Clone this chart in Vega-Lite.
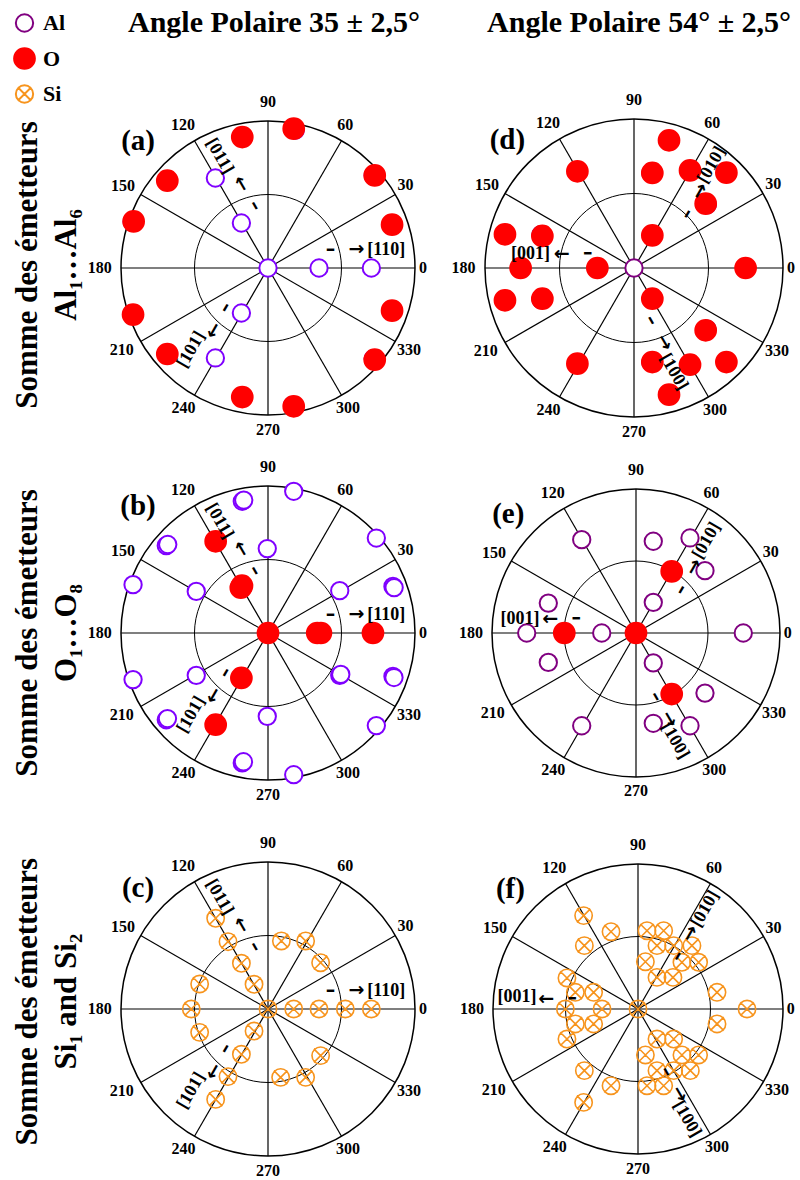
{
"$schema": "https://vega.github.io/schema/vega-lite/v6.json",
"padding": 0,
"background": "white",
"datasets": {
"spokes": [{"x":1,"y":0,"x2":-1,"y2":0},{"x":0.866,"y":0.5,"x2":-0.866,"y2":-0.5},{"x":0.5,"y":0.866,"x2":-0.5,"y2":-0.866},{"x":0,"y":1,"x2":0,"y2":-1},{"x":-0.5,"y":0.866,"x2":0.5,"y2":-0.866},{"x":-0.866,"y":0.5,"x2":0.866,"y2":-0.5}],
"origin": [{"x":0,"y":0}],
"alab": [{"t":"0","x":1.054,"y":0},{"t":"30","x":0.935,"y":0.562},{"t":"60","x":0.525,"y":0.971},{"t":"90","x":0,"y":1.129},{"t":"120","x":-0.578,"y":0.971},{"t":"150","x":-0.986,"y":0.556},{"t":"180","x":-1.145,"y":0},{"t":"210","x":-0.995,"y":-0.556},{"t":"240","x":-0.574,"y":-0.952},{"t":"270","x":0,"y":-1.1},{"t":"300","x":0.544,"y":-0.952},{"t":"330","x":0.959,"y":-0.556}],
"annL0": [{"t":"[110]","x":0.805,"y":0.125}],
"arrL0": [{"t":"–\u00a0\u00a0→","x":0.524,"y":0.127}],
"annL60": [{"t":"[011]","x":-0.329,"y":0.76}],
"annL300": [{"t":"[101]","x":-0.522,"y":-0.556}],
"arrL240": [{"t":"–\u00a0\u00a0→","x":-0.143,"y":0.506}],
"arrL120": [{"t":"–\u00a0\u00a0→","x":-0.333,"y":-0.358}],
"pa": [{"x":0,"y":0,"element":"Al"},{"x":0.347,"y":0,"element":"Al"},{"x":0.703,"y":0,"element":"Al"},{"x":-0.181,"y":0.306,"element":"Al"},{"x":-0.358,"y":0.612,"element":"Al"},{"x":-0.181,"y":-0.306,"element":"Al"},{"x":-0.358,"y":-0.612,"element":"Al"},{"x":0.185,"y":0.938,"element":"Al"},{"x":0.716,"y":0.63,"element":"Al"},{"x":-0.924,"y":0.314,"element":"Al"},{"x":-0.924,"y":-0.31,"element":"Al"},{"x":0.716,"y":-0.618,"element":"Al"},{"x":0.167,"y":-0.934,"element":"Al"},
{"x":0.175,"y":0.948,"element":"O"},{"x":-0.175,"y":0.891,"element":"O"},{"x":0.726,"y":0.63,"element":"O"},{"x":-0.685,"y":0.594,"element":"O"},{"x":0.844,"y":0.295,"element":"O"},{"x":-0.914,"y":0.317,"element":"O"},{"x":0.844,"y":-0.29,"element":"O"},{"x":-0.918,"y":-0.317,"element":"O"},{"x":-0.685,"y":-0.585,"element":"O"},{"x":0.726,"y":-0.624,"element":"O"},{"x":-0.175,"y":-0.878,"element":"O"},{"x":0.175,"y":-0.941,"element":"O"}],
"pb": [{"x":0.175,"y":0.964,"element":"Al"},{"x":-0.175,"y":0.896,"element":"Al"},{"x":-0.165,"y":0.904,"element":"Al"},{"x":0.737,"y":0.646,"element":"Al"},{"x":-0.692,"y":0.594,"element":"Al"},{"x":-0.682,"y":0.602,"element":"Al"},{"x":-0.005,"y":0.574,"element":"Al"},{"x":-0.918,"y":0.329,"element":"Al"},{"x":-0.488,"y":0.283,"element":"Al"},{"x":0.488,"y":0.288,"element":"Al"},{"x":0.85,"y":0.317,"element":"Al"},{"x":0.858,"y":0.309,"element":"Al"},{"x":-0.918,"y":-0.317,"element":"Al"},{"x":-0.488,"y":-0.288,"element":"Al"},{"x":0.488,"y":-0.288,"element":"Al"},{"x":0.495,"y":-0.282,"element":"Al"},{"x":0.85,"y":-0.295,"element":"Al"},{"x":0.857,"y":-0.303,"element":"Al"},{"x":-0.692,"y":-0.59,"element":"Al"},{"x":-0.684,"y":-0.582,"element":"Al"},{"x":-0.005,"y":-0.567,"element":"Al"},{"x":0.737,"y":-0.63,"element":"Al"},{"x":-0.175,"y":-0.884,"element":"Al"},{"x":-0.167,"y":-0.876,"element":"Al"},{"x":0.175,"y":-0.964,"element":"Al"},
{"x":0,"y":0,"element":"O"},{"x":0.335,"y":0,"element":"O"},{"x":0.36,"y":0,"element":"O"},{"x":0.714,"y":0,"element":"O"},{"x":-0.185,"y":0.308,"element":"O"},{"x":-0.177,"y":0.322,"element":"O"},{"x":-0.356,"y":0.624,"element":"O"},{"x":-0.181,"y":-0.306,"element":"O"},{"x":-0.356,"y":-0.624,"element":"O"}],
"pc": [{"x":0,"y":0,"element":"Si"},{"x":0.175,"y":0,"element":"Si"},{"x":0.347,"y":0,"element":"Si"},{"x":0.526,"y":0,"element":"Si"},{"x":0.703,"y":0,"element":"Si"},{"x":-0.522,"y":0,"element":"Si"},{"x":-0.465,"y":0.17,"element":"Si"},{"x":-0.465,"y":-0.159,"element":"Si"},{"x":-0.095,"y":0.168,"element":"Si"},{"x":-0.181,"y":0.311,"element":"Si"},{"x":-0.272,"y":0.458,"element":"Si"},{"x":-0.356,"y":0.617,"element":"Si"},{"x":-0.095,"y":-0.15,"element":"Si"},{"x":-0.181,"y":-0.308,"element":"Si"},{"x":-0.272,"y":-0.46,"element":"Si"},{"x":-0.356,"y":-0.615,"element":"Si"},{"x":0.091,"y":0.463,"element":"Si"},{"x":0.256,"y":0.463,"element":"Si"},{"x":0.358,"y":0.315,"element":"Si"},{"x":0.358,"y":-0.317,"element":"Si"},{"x":0.256,"y":-0.465,"element":"Si"},{"x":0.086,"y":-0.465,"element":"Si"}],
"pd": [{"x":0,"y":0,"element":"Al"},{"x":0.113,"y":0.638,"element":"Al"},{"x":0.492,"y":0.425,"element":"Al"},{"x":-0.624,"y":0.224,"element":"Al"},{"x":-0.624,"y":-0.212,"element":"Al"},{"x":0.49,"y":-0.41,"element":"Al"},{"x":0.113,"y":-0.631,"element":"Al"},
{"x":0.235,"y":0.857,"element":"O"},{"x":-0.38,"y":0.649,"element":"O"},{"x":0.123,"y":0.638,"element":"O"},{"x":0.376,"y":0.655,"element":"O"},{"x":0.62,"y":0.64,"element":"O"},{"x":0.481,"y":0.432,"element":"O"},{"x":0.123,"y":0.219,"element":"O"},{"x":-0.866,"y":0.226,"element":"O"},{"x":-0.615,"y":0.215,"element":"O"},{"x":-0.761,"y":0,"element":"O"},{"x":-0.246,"y":0,"element":"O"},{"x":0.749,"y":0,"element":"O"},{"x":-0.866,"y":-0.217,"element":"O"},{"x":-0.615,"y":-0.206,"element":"O"},{"x":0.123,"y":-0.206,"element":"O"},{"x":0.481,"y":-0.418,"element":"O"},{"x":-0.38,"y":-0.642,"element":"O"},{"x":0.123,"y":-0.631,"element":"O"},{"x":0.376,"y":-0.649,"element":"O"},{"x":0.62,"y":-0.631,"element":"O"},{"x":0.235,"y":-0.85,"element":"O"}],
"pe": [{"x":0.375,"y":0.66,"element":"Al"},{"x":0.12,"y":0.637,"element":"Al"},{"x":-0.377,"y":0.648,"element":"Al"},{"x":0.479,"y":0.433,"element":"Al"},{"x":0.12,"y":0.213,"element":"Al"},{"x":-0.609,"y":0.208,"element":"Al"},{"x":-0.759,"y":0,"element":"Al"},{"x":-0.238,"y":0,"element":"Al"},{"x":0.745,"y":0,"element":"Al"},{"x":-0.609,"y":-0.204,"element":"Al"},{"x":0.12,"y":-0.208,"element":"Al"},{"x":0.479,"y":-0.417,"element":"Al"},{"x":-0.377,"y":-0.644,"element":"Al"},{"x":0.12,"y":-0.627,"element":"Al"},{"x":0.375,"y":-0.644,"element":"Al"},
{"x":0,"y":0,"element":"O"},{"x":0.248,"y":0.428,"element":"O"},{"x":-0.498,"y":0,"element":"O"},{"x":0.248,"y":-0.424,"element":"O"}],
"pf": [{"x":-0.375,"y":0.644,"element":"Si"},{"x":-0.186,"y":0.533,"element":"Si"},{"x":-0.37,"y":0.437,"element":"Si"},{"x":-0.49,"y":0.214,"element":"Si"},{"x":-0.432,"y":0.115,"element":"Si"},{"x":-0.306,"y":0.115,"element":"Si"},{"x":-0.501,"y":0,"element":"Si"},{"x":-0.248,"y":0,"element":"Si"},{"x":-0.432,"y":-0.103,"element":"Si"},{"x":-0.306,"y":-0.103,"element":"Si"},{"x":-0.49,"y":-0.207,"element":"Si"},{"x":-0.37,"y":-0.425,"element":"Si"},{"x":-0.186,"y":-0.529,"element":"Si"},{"x":-0.375,"y":-0.644,"element":"Si"},{"x":0,"y":0,"element":"Si"},{"x":0.545,"y":0.115,"element":"Si"},{"x":0.752,"y":0,"element":"Si"},{"x":0.545,"y":-0.103,"element":"Si"},{"x":0.062,"y":0.54,"element":"Si"},{"x":0.177,"y":0.54,"element":"Si"},{"x":0.131,"y":0.437,"element":"Si"},{"x":0.246,"y":0.437,"element":"Si"},{"x":0.372,"y":0.437,"element":"Si"},{"x":0.051,"y":0.326,"element":"Si"},{"x":0.303,"y":0.322,"element":"Si"},{"x":0.418,"y":0.322,"element":"Si"},{"x":0.131,"y":0.218,"element":"Si"},{"x":0.241,"y":0.218,"element":"Si"},{"x":0.131,"y":-0.207,"element":"Si"},{"x":0.246,"y":-0.207,"element":"Si"},{"x":0.051,"y":-0.317,"element":"Si"},{"x":0.303,"y":-0.317,"element":"Si"},{"x":0.418,"y":-0.317,"element":"Si"},{"x":0.131,"y":-0.425,"element":"Si"},{"x":0.246,"y":-0.425,"element":"Si"},{"x":0.361,"y":-0.425,"element":"Si"},{"x":0.062,"y":-0.529,"element":"Si"},{"x":0.177,"y":-0.529,"element":"Si"}]
},
"columns": 2,
"spacing": {"row": 71, "column": 70},
"bounds": "flush",
"concat": [
 {"width":415,"height":415,
  "encoding":{"x":{"field":"x","type":"quantitative","scale":{"domain":[-1.8231,1],"nice":false,"zero":false},"axis":null},
              "y":{"field":"y","type":"quantitative","scale":{"domain":[-1,1.8231],"nice":false,"zero":false},"axis":null}},
  "layer":[
   {"data":{"name":"spokes"},"mark":{"type":"rule","stroke":"black","strokeWidth":1.2},"encoding":{"x2":{"field":"x2"},"y2":{"field":"y2"}}},
   {"data":{"name":"origin"},"mark":{"type":"point","shape":"circle","filled":false,"stroke":"black","strokeWidth":1.5,"size":86436,"opacity":1},"encoding":{}},
   {"data":{"name":"origin"},"mark":{"type":"point","shape":"circle","filled":false,"stroke":"black","strokeWidth":1,"size":21609,"opacity":1},"encoding":{}},
   {"data":{"name":"pa"},"mark":{"type":"point","strokeWidth":2,"opacity":1},"encoding":{
     "shape":{"field":"element","type":"nominal","title":null,"scale":{"domain":["Al","O","Si"],"range":["circle","circle","M-1,0A1,1,0,1,1,1,0A1,1,0,1,1,-1,0ZM-0.78,-0.78L0.78,0.78M-0.78,0.78L0.78,-0.78"]}},
     "stroke":{"condition":{"test":"datum.element === 'Al'","value":"#7f00ff"},"field":"element","type":"nominal","title":null,"scale":{"domain":["Al","O","Si"],"range":["#800080","#ff0000","#f7941d"]}},
     "fill":{"field":"element","type":"nominal","title":null,"scale":{"domain":["Al","O","Si"],"range":["#ffffff","#ff0000","transparent"]}},
     "size":{"field":"element","type":"nominal","title":null,"scale":{"type":"ordinal","domain":["Al","O","Si"],"range":[300,430,300]}}}},
   {"data":{"name":"alab"},"mark":{"type":"text","fontSize":16},"encoding":{"text":{"field":"t","type":"nominal"}}},
   {"data":{"values":[{"x":-0.884,"y":0.862,"t":"(a)"}]},"mark":{"type":"text","fontSize":29},"encoding":{"text":{"field":"t","type":"nominal"}}},
   {"data":{"name":"annL0"},"mark":{"type":"text","fontSize":18},"encoding":{"text":{"field":"t","type":"nominal"}}},
   {"data":{"name":"annL60"},"mark":{"type":"text","fontSize":18,"angle":60},"encoding":{"text":{"field":"t","type":"nominal"}}},
   {"data":{"name":"annL300"},"mark":{"type":"text","fontSize":18,"angle":300},"encoding":{"text":{"field":"t","type":"nominal"}}},
   {"data":{"name":"arrL0"},"mark":{"type":"text","font":"DejaVu Sans","fontSize":19},"encoding":{"text":{"field":"t","type":"nominal"}}},
   {"data":{"name":"arrL240"},"mark":{"type":"text","font":"DejaVu Sans","fontSize":19,"angle":240},"encoding":{"text":{"field":"t","type":"nominal"}}},
   {"data":{"name":"arrL120"},"mark":{"type":"text","font":"DejaVu Sans","fontSize":19,"angle":120},"encoding":{"text":{"field":"t","type":"nominal"}}},
   {"data":{"values":[{"x":-1.633,"y":0.02}]},"mark":{"type":"text","text":["Somme des émetteurs","Al₁…Al₆"],"angle":270,"fontSize":31,"lineHeight":39},"encoding":{}},
   {"data":{"values":[{"x":0.041,"y":1.6054,"t":"Angle Polaire 35 ± 2,5°"}]},"mark":{"type":"text","fontSize":30,"baseline":"alphabetic"},"encoding":{"text":{"field":"t","type":"nominal"}}}
  ]},
 {"width":298,"height":415,
  "encoding":{"x":{"field":"x","type":"quantitative","scale":{"domain":[-1,1],"nice":false,"zero":false},"axis":null},
              "y":{"field":"y","type":"quantitative","scale":{"domain":[-0.98658,1.79866],"nice":false,"zero":false},"axis":null}},
  "layer":[
   {"data":{"name":"spokes"},"mark":{"type":"rule","stroke":"black","strokeWidth":1.2},"encoding":{"x2":{"field":"x2"},"y2":{"field":"y2"}}},
   {"data":{"name":"origin"},"mark":{"type":"point","shape":"circle","filled":false,"stroke":"black","strokeWidth":1.5,"size":88804,"opacity":1},"encoding":{}},
   {"data":{"name":"origin"},"mark":{"type":"point","shape":"circle","filled":false,"stroke":"black","strokeWidth":1,"size":22201,"opacity":1},"encoding":{}},
   {"data":{"name":"pd"},"mark":{"type":"point","strokeWidth":2,"opacity":1},"encoding":{
     "shape":{"field":"element","type":"nominal","title":null,"scale":{"domain":["Al","O","Si"],"range":["circle","circle","M-1,0A1,1,0,1,1,1,0A1,1,0,1,1,-1,0ZM-0.78,-0.78L0.78,0.78M-0.78,0.78L0.78,-0.78"]}},
     "stroke":{"field":"element","type":"nominal","title":null,"scale":{"domain":["Al","O","Si"],"range":["#800080","#ff0000","#f7941d"]}},
     "fill":{"field":"element","type":"nominal","title":null,"scale":{"domain":["Al","O","Si"],"range":["#ffffff","#ff0000","transparent"]}},
     "size":{"field":"element","type":"nominal","title":null,"scale":{"type":"ordinal","domain":["Al","O","Si"],"range":[300,430,300]}}}},
   {"data":{"name":"alab"},"mark":{"type":"text","fontSize":16},"encoding":{"text":{"field":"t","type":"nominal"}}},
   {"data":{"values":[{"x":-0.85,"y":0.857,"t":"(d)"}]},"mark":{"type":"text","fontSize":29},"encoding":{"text":{"field":"t","type":"nominal"}}},
   {"data":{"values":[{"t":"[001]","x":-0.694,"y":0.096}]},"mark":{"type":"text","fontSize":18},"encoding":{"text":{"field":"t","type":"nominal"}}},
   {"data":{"values":[{"t":"[010]","x":0.521,"y":0.691}]},"mark":{"type":"text","fontSize":18,"angle":300},"encoding":{"text":{"field":"t","type":"nominal"}}},
   {"data":{"values":[{"t":"[100]","x":0.268,"y":-0.698}]},"mark":{"type":"text","fontSize":18,"angle":60},"encoding":{"text":{"field":"t","type":"nominal"}}},
   {"data":{"values":[{"t":"–\u00a0\u00a0→","x":-0.409,"y":0.096}]},"mark":{"type":"text","font":"DejaVu Sans","fontSize":19,"angle":180},"encoding":{"text":{"field":"t","type":"nominal"}}},
   {"data":{"values":[{"t":"–\u00a0\u00a0→","x":0.403,"y":0.45}]},"mark":{"type":"text","font":"DejaVu Sans","fontSize":19,"angle":300},"encoding":{"text":{"field":"t","type":"nominal"}}},
   {"data":{"values":[{"t":"–\u00a0\u00a0→","x":0.168,"y":-0.434}]},"mark":{"type":"text","font":"DejaVu Sans","fontSize":19,"angle":60},"encoding":{"text":{"field":"t","type":"nominal"}}},
   {"data":{"values":[{"x":0.034,"y":1.5839,"t":"Angle Polaire 54° ± 2,5°"}]},"mark":{"type":"text","fontSize":30,"baseline":"alphabetic"},"encoding":{"text":{"field":"t","type":"nominal"}}}
  ]},
 {"width":415,"height":294,
  "encoding":{"x":{"field":"x","type":"quantitative","scale":{"domain":[-1.8231,1],"nice":false,"zero":false},"axis":null},
              "y":{"field":"y","type":"quantitative","scale":{"domain":[-1,1],"nice":false,"zero":false},"axis":null}},
  "layer":[
   {"data":{"name":"spokes"},"mark":{"type":"rule","stroke":"black","strokeWidth":1.2},"encoding":{"x2":{"field":"x2"},"y2":{"field":"y2"}}},
   {"data":{"name":"origin"},"mark":{"type":"point","shape":"circle","filled":false,"stroke":"black","strokeWidth":1.5,"size":86436,"opacity":1},"encoding":{}},
   {"data":{"name":"origin"},"mark":{"type":"point","shape":"circle","filled":false,"stroke":"black","strokeWidth":1,"size":21609,"opacity":1},"encoding":{}},
   {"data":{"name":"pb"},"mark":{"type":"point","strokeWidth":2,"opacity":1},"encoding":{
     "shape":{"field":"element","type":"nominal","title":null,"scale":{"domain":["Al","O","Si"],"range":["circle","circle","M-1,0A1,1,0,1,1,1,0A1,1,0,1,1,-1,0ZM-0.78,-0.78L0.78,0.78M-0.78,0.78L0.78,-0.78"]}},
     "stroke":{"condition":{"test":"datum.element === 'Al'","value":"#7f00ff"},"field":"element","type":"nominal","title":null,"scale":{"domain":["Al","O","Si"],"range":["#800080","#ff0000","#f7941d"]}},
     "fill":{"field":"element","type":"nominal","title":null,"scale":{"domain":["Al","O","Si"],"range":["#ffffff","#ff0000","transparent"]}},
     "size":{"field":"element","type":"nominal","title":null,"scale":{"type":"ordinal","domain":["Al","O","Si"],"range":[300,430,300]}}}},
   {"data":{"name":"alab"},"mark":{"type":"text","fontSize":16},"encoding":{"text":{"field":"t","type":"nominal"}}},
   {"data":{"values":[{"x":-0.884,"y":0.862,"t":"(b)"}]},"mark":{"type":"text","fontSize":29},"encoding":{"text":{"field":"t","type":"nominal"}}},
   {"data":{"name":"annL0"},"mark":{"type":"text","fontSize":18},"encoding":{"text":{"field":"t","type":"nominal"}}},
   {"data":{"name":"annL60"},"mark":{"type":"text","fontSize":18,"angle":60},"encoding":{"text":{"field":"t","type":"nominal"}}},
   {"data":{"name":"annL300"},"mark":{"type":"text","fontSize":18,"angle":300},"encoding":{"text":{"field":"t","type":"nominal"}}},
   {"data":{"name":"arrL0"},"mark":{"type":"text","font":"DejaVu Sans","fontSize":19},"encoding":{"text":{"field":"t","type":"nominal"}}},
   {"data":{"name":"arrL240"},"mark":{"type":"text","font":"DejaVu Sans","fontSize":19,"angle":240},"encoding":{"text":{"field":"t","type":"nominal"}}},
   {"data":{"name":"arrL120"},"mark":{"type":"text","font":"DejaVu Sans","fontSize":19,"angle":120},"encoding":{"text":{"field":"t","type":"nominal"}}},
   {"data":{"values":[{"x":-1.633,"y":0}]},"mark":{"type":"text","text":["Somme des émetteurs","O₁…O₈"],"angle":270,"fontSize":31,"lineHeight":39},"encoding":{}}
  ]},
 {"width":298,"height":294,
  "encoding":{"x":{"field":"x","type":"quantitative","scale":{"domain":[-1.04861,1.02083],"nice":false,"zero":false},"axis":null},
              "y":{"field":"y","type":"quantitative","scale":{"domain":[-1.02083,1.02083],"nice":false,"zero":false},"axis":null}},
  "layer":[
   {"data":{"name":"spokes"},"mark":{"type":"rule","stroke":"black","strokeWidth":1.2},"encoding":{"x2":{"field":"x2"},"y2":{"field":"y2"}}},
   {"data":{"name":"origin"},"mark":{"type":"point","shape":"circle","filled":false,"stroke":"black","strokeWidth":1.5,"size":82944,"opacity":1},"encoding":{}},
   {"data":{"name":"origin"},"mark":{"type":"point","shape":"circle","filled":false,"stroke":"black","strokeWidth":1,"size":20736,"opacity":1},"encoding":{}},
   {"data":{"name":"pe"},"mark":{"type":"point","strokeWidth":2,"opacity":1},"encoding":{
     "shape":{"field":"element","type":"nominal","title":null,"scale":{"domain":["Al","O","Si"],"range":["circle","circle","M-1,0A1,1,0,1,1,1,0A1,1,0,1,1,-1,0ZM-0.78,-0.78L0.78,0.78M-0.78,0.78L0.78,-0.78"]}},
     "stroke":{"field":"element","type":"nominal","title":null,"scale":{"domain":["Al","O","Si"],"range":["#800080","#ff0000","#f7941d"]}},
     "fill":{"field":"element","type":"nominal","title":null,"scale":{"domain":["Al","O","Si"],"range":["#ffffff","#ff0000","transparent"]}},
     "size":{"field":"element","type":"nominal","title":null,"scale":{"type":"ordinal","domain":["Al","O","Si"],"range":[300,430,300]}}}},
   {"data":{"name":"alab"},"mark":{"type":"text","fontSize":16},"encoding":{"text":{"field":"t","type":"nominal"}}},
   {"data":{"values":[{"x":-0.887,"y":0.826,"t":"(e)"}]},"mark":{"type":"text","fontSize":29},"encoding":{"text":{"field":"t","type":"nominal"}}},
   {"data":{"values":[{"t":"[001]","x":-0.806,"y":0.097}]},"mark":{"type":"text","fontSize":18},"encoding":{"text":{"field":"t","type":"nominal"}}},
   {"data":{"values":[{"t":"[010]","x":0.491,"y":0.641}]},"mark":{"type":"text","fontSize":18,"angle":300},"encoding":{"text":{"field":"t","type":"nominal"}}},
   {"data":{"values":[{"t":"[100]","x":0.271,"y":-0.748}]},"mark":{"type":"text","fontSize":18,"angle":60},"encoding":{"text":{"field":"t","type":"nominal"}}},
   {"data":{"values":[{"t":"–\u00a0\u00a0→","x":-0.516,"y":0.097}]},"mark":{"type":"text","font":"DejaVu Sans","fontSize":19,"angle":180},"encoding":{"text":{"field":"t","type":"nominal"}}},
   {"data":{"values":[{"t":"–\u00a0\u00a0→","x":0.361,"y":0.391}]},"mark":{"type":"text","font":"DejaVu Sans","fontSize":19,"angle":300},"encoding":{"text":{"field":"t","type":"nominal"}}},
   {"data":{"values":[{"t":"–\u00a0\u00a0→","x":0.194,"y":-0.528}]},"mark":{"type":"text","font":"DejaVu Sans","fontSize":19,"angle":60},"encoding":{"text":{"field":"t","type":"nominal"}}}
  ]},
 {"width":415,"height":305,
  "encoding":{"x":{"field":"x","type":"quantitative","scale":{"domain":[-1.8231,1],"nice":false,"zero":false},"axis":null},
              "y":{"field":"y","type":"quantitative","scale":{"domain":[-1,1.07483],"nice":false,"zero":false},"axis":null}},
  "layer":[
   {"data":{"name":"spokes"},"mark":{"type":"rule","stroke":"black","strokeWidth":1.2},"encoding":{"x2":{"field":"x2"},"y2":{"field":"y2"}}},
   {"data":{"name":"origin"},"mark":{"type":"point","shape":"circle","filled":false,"stroke":"black","strokeWidth":1.5,"size":86436,"opacity":1},"encoding":{}},
   {"data":{"name":"origin"},"mark":{"type":"point","shape":"circle","filled":false,"stroke":"black","strokeWidth":1,"size":21609,"opacity":1},"encoding":{}},
   {"data":{"name":"pc"},"mark":{"type":"point","strokeWidth":1.6,"opacity":1},"encoding":{
     "shape":{"field":"element","type":"nominal","title":null,"scale":{"domain":["Al","O","Si"],"range":["circle","circle","M-1,0A1,1,0,1,1,1,0A1,1,0,1,1,-1,0ZM-0.78,-0.78L0.78,0.78M-0.78,0.78L0.78,-0.78"]}},
     "stroke":{"field":"element","type":"nominal","title":null,"scale":{"domain":["Al","O","Si"],"range":["#800080","#ff0000","#f7941d"]}},
     "fill":{"field":"element","type":"nominal","title":null,"scale":{"domain":["Al","O","Si"],"range":["#ffffff","#ff0000","transparent"]}},
     "size":{"field":"element","type":"nominal","title":null,"scale":{"type":"ordinal","domain":["Al","O","Si"],"range":[300,430,300]}}}},
   {"data":{"name":"alab"},"mark":{"type":"text","fontSize":16},"encoding":{"text":{"field":"t","type":"nominal"}}},
   {"data":{"values":[{"x":-0.884,"y":0.821,"t":"(c)"}]},"mark":{"type":"text","fontSize":29},"encoding":{"text":{"field":"t","type":"nominal"}}},
   {"data":{"name":"annL0"},"mark":{"type":"text","fontSize":18},"encoding":{"text":{"field":"t","type":"nominal"}}},
   {"data":{"name":"annL60"},"mark":{"type":"text","fontSize":18,"angle":60},"encoding":{"text":{"field":"t","type":"nominal"}}},
   {"data":{"name":"annL300"},"mark":{"type":"text","fontSize":18,"angle":300},"encoding":{"text":{"field":"t","type":"nominal"}}},
   {"data":{"name":"arrL0"},"mark":{"type":"text","font":"DejaVu Sans","fontSize":19},"encoding":{"text":{"field":"t","type":"nominal"}}},
   {"data":{"name":"arrL240"},"mark":{"type":"text","font":"DejaVu Sans","fontSize":19,"angle":240},"encoding":{"text":{"field":"t","type":"nominal"}}},
   {"data":{"name":"arrL120"},"mark":{"type":"text","font":"DejaVu Sans","fontSize":19,"angle":120},"encoding":{"text":{"field":"t","type":"nominal"}}},
   {"data":{"values":[{"x":-1.633,"y":0.05}]},"mark":{"type":"text","text":["Somme des émetteurs","Si₁ and Si₂"],"angle":270,"fontSize":31,"lineHeight":39},"encoding":{}}
  ]},
 {"width":298,"height":305,
  "encoding":{"x":{"field":"x","type":"quantitative","scale":{"domain":[-1.05517,1.0],"nice":false,"zero":false},"axis":null},
              "y":{"field":"y","type":"quantitative","scale":{"domain":[-1.01379,1.08966],"nice":false,"zero":false},"axis":null}},
  "layer":[
   {"data":{"name":"spokes"},"mark":{"type":"rule","stroke":"black","strokeWidth":1.2},"encoding":{"x2":{"field":"x2"},"y2":{"field":"y2"}}},
   {"data":{"name":"origin"},"mark":{"type":"point","shape":"circle","filled":false,"stroke":"black","strokeWidth":1.5,"size":84100,"opacity":1},"encoding":{}},
   {"data":{"name":"origin"},"mark":{"type":"point","shape":"circle","filled":false,"stroke":"black","strokeWidth":1,"size":21025,"opacity":1},"encoding":{}},
   {"data":{"name":"pf"},"mark":{"type":"point","strokeWidth":1.6,"opacity":1},"encoding":{
     "shape":{"field":"element","type":"nominal","title":null,"scale":{"domain":["Al","O","Si"],"range":["circle","circle","M-1,0A1,1,0,1,1,1,0A1,1,0,1,1,-1,0ZM-0.78,-0.78L0.78,0.78M-0.78,0.78L0.78,-0.78"]}},
     "stroke":{"field":"element","type":"nominal","title":null,"scale":{"domain":["Al","O","Si"],"range":["#800080","#ff0000","#f7941d"]}},
     "fill":{"field":"element","type":"nominal","title":null,"scale":{"domain":["Al","O","Si"],"range":["#ffffff","#ff0000","transparent"]}},
     "size":{"field":"element","type":"nominal","title":null,"scale":{"type":"ordinal","domain":["Al","O","Si"],"range":[300,430,300]}}}},
   {"data":{"name":"alab"},"mark":{"type":"text","fontSize":16},"encoding":{"text":{"field":"t","type":"nominal"}}},
   {"data":{"values":[{"x":-0.88,"y":0.828,"t":"(f)"}]},"mark":{"type":"text","fontSize":29},"encoding":{"text":{"field":"t","type":"nominal"}}},
   {"data":{"values":[{"t":"[001]","x":-0.834,"y":0.08}]},"mark":{"type":"text","fontSize":18},"encoding":{"text":{"field":"t","type":"nominal"}}},
   {"data":{"values":[{"t":"[010]","x":0.464,"y":0.69}]},"mark":{"type":"text","fontSize":18,"angle":300},"encoding":{"text":{"field":"t","type":"nominal"}}},
   {"data":{"values":[{"t":"[100]","x":0.338,"y":-0.759}]},"mark":{"type":"text","fontSize":18,"angle":60},"encoding":{"text":{"field":"t","type":"nominal"}}},
   {"data":{"values":[{"t":"–\u00a0\u00a0→","x":-0.554,"y":0.069}]},"mark":{"type":"text","font":"DejaVu Sans","fontSize":19,"angle":180},"encoding":{"text":{"field":"t","type":"nominal"}}},
   {"data":{"values":[{"t":"–\u00a0\u00a0→","x":0.32,"y":0.453}]},"mark":{"type":"text","font":"DejaVu Sans","fontSize":19,"angle":300},"encoding":{"text":{"field":"t","type":"nominal"}}},
   {"data":{"values":[{"t":"–\u00a0\u00a0→","x":0.25,"y":-0.517}]},"mark":{"type":"text","font":"DejaVu Sans","fontSize":19,"angle":60},"encoding":{"text":{"field":"t","type":"nominal"}}}
  ]}
],
"config": {
 "view": {"stroke": null},
 "text": {"font": "Liberation Serif", "fontWeight": "bold", "fill": "black"},
 "legend": {"orient": "none", "legendX": 13, "legendY": 12, "direction": "vertical", "padding": 0, "labelFont": "Liberation Serif", "labelFontSize": 22, "labelFontWeight": "bold", "labelColor": "black", "labelOffset": 7, "rowPadding": 8, "symbolStrokeWidth": 2}
}
}
